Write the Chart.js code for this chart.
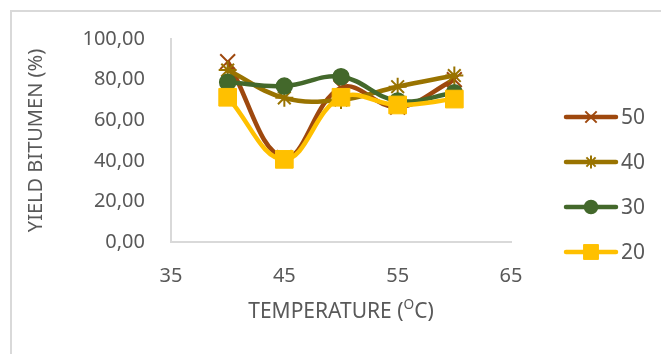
<!DOCTYPE html>
<html>
<head>
<meta charset="utf-8">
<script src="https://cdn.jsdelivr.net/npm/chart.js@4/dist/chart.umd.min.js"></script>
<style>
  html, body { margin: 0; padding: 0; background: #ffffff; }
  #wrap { width: 661px; height: 354px; position: relative; }
</style>
</head>
<body>
<div id="wrap"><canvas id="c" width="661" height="354"></canvas></div>
<script>
// Extraction temperature (°C) and bitumen yield (%) for each series
const temperatures = [40, 45, 50, 55, 60];
const seriesNames = ['50', '40', '30', '20'];
const yield50 = [88.8, 41.5, 76.0, 66.5, 80.0];
const yield40 = [84.7, 71.0, 70.0, 76.5, 82.0];
const yield30 = [78.7, 76.8, 81.4, 69.5, 73.5];
const yield20 = [71.3, 40.7, 71.3, 67.5, 70.4];
const xTicks = [35, 45, 55, 65];
const yTicks = [0, 20, 40, 60, 80, 100];

const FONT = '"Noto Sans", "Open Sans", "Liberation Sans", sans-serif';
const TEXT = '#595959';
const AXIS = '#d9d9d9';

const styles = [
  { color: '#9E480E', point: 'crossRot', radius: 10.5, pw: 2,   lr: 8,    order: 4 },
  { color: '#997300', point: 'star',     radius: 9,    pw: 2,   lr: 6.5,  order: 3 },
  { color: '#43682B', point: 'circle',   radius: 8,    pw: 1.5, lr: 6.5,  order: 2 },
  { color: '#FFC000', point: 'rect',     radius: 12.5, pw: 1,   lr: 10.5, order: 1 }
];
const values = [yield50, yield40, yield30, yield20];

const datasets = seriesNames.map((name, s) => ({
  label: name,
  data: temperatures.map((t, i) => ({ x: t, y: values[s][i] })),
  borderColor: styles[s].color,
  backgroundColor: styles[s].color,
  pointBackgroundColor: styles[s].color,
  pointBorderColor: styles[s].color,
  borderWidth: 4.5,
  tension: 0.4,
  pointStyle: styles[s].point,
  pointRadius: styles[s].radius,
  pointBorderWidth: styles[s].pw,
  order: styles[s].order
}));

// Light grey chart frame
const framePlugin = {
  id: 'frame',
  beforeDraw(chart) {
    const ctx = chart.ctx;
    ctx.save();
    ctx.strokeStyle = AXIS;
    ctx.lineWidth = 2;
    ctx.beginPath();
    ctx.moveTo(11, 354);
    ctx.lineTo(11, 11);
    ctx.lineTo(661, 11);
    ctx.stroke();
    ctx.restore();
  }
};

// X axis title with superscript, plus a line-and-marker legend on the right
const extrasPlugin = {
  id: 'extras',
  afterDraw(chart) {
    const ctx = chart.ctx;
    const area = chart.chartArea;
    ctx.save();
    // x axis title
    const size = 21;
    const parts = [
      { t: 'TEMPERATURE (', s: size, dy: 0 },
      { t: 'O', s: size * 0.65, dy: -7 },
      { t: 'C)', s: size, dy: 0 }
    ];
    let total = 0;
    parts.forEach(p => { ctx.font = p.s + 'px ' + FONT; p.w = ctx.measureText(p.t).width; total += p.w; });
    let x = (area.left + area.right) / 2 - total / 2;
    const y = 312;
    ctx.fillStyle = TEXT;
    ctx.textBaseline = 'middle';
    ctx.textAlign = 'left';
    parts.forEach(p => {
      ctx.font = p.s + 'px ' + FONT;
      ctx.fillText(p.t, x, y + p.dy);
      x += p.w;
    });

    // legend
    const rows = [117, 162, 207, 252];
    chart.data.datasets.forEach((ds, i) => {
      const st = styles[i];
      const ly = rows[i];
      ctx.strokeStyle = st.color;
      ctx.fillStyle = st.color;
      ctx.lineWidth = 4.5;
      ctx.lineCap = 'round';
      ctx.beginPath();
      ctx.moveTo(566, ly);
      ctx.lineTo(616, ly);
      ctx.stroke();
      ctx.lineCap = 'butt';
      ctx.lineWidth = st.pw;
      Chart.helpers.drawPoint(ctx, { pointStyle: st.point, radius: st.lr, rotation: 0, borderWidth: st.pw }, 591, ly);
      ctx.fillStyle = TEXT;
      ctx.font = '21px ' + FONT;
      ctx.textBaseline = 'middle';
      ctx.fillText(ds.label, 621, ly + 1);
    });
    ctx.restore();
  }
};

new Chart(document.getElementById('c'), {
  type: 'line',
  data: { datasets },
  options: {
    responsive: false,
    animation: false,
    devicePixelRatio: 1,
    layout: { padding: { left: 0, top: 39, right: 150, bottom: 0 } },
    plugins: { legend: { display: false }, tooltip: { enabled: false } },
    scales: {
      x: {
        type: 'linear',
        min: 35,
        max: 65,
        afterBuildTicks(scale) { scale.ticks = xTicks.map(v => ({ value: v })); },
        afterFit(scale) { scale.height = 112; },
        grid: { display: false, drawTicks: false },
        border: { display: true, color: AXIS, width: 2 },
        ticks: { color: TEXT, font: { family: FONT, size: 20 }, padding: 22, maxRotation: 0 }
      },
      y: {
        min: 0,
        max: 100,
        afterBuildTicks(scale) { scale.ticks = yTicks.map(v => ({ value: v })); },
        afterFit(scale) { scale.width = 171; },
        grid: { display: false, drawTicks: false },
        border: { display: true, color: AXIS, width: 2 },
        ticks: {
          color: TEXT,
          font: { family: FONT, size: 20 },
          padding: 26,
          callback: v => Number(v).toFixed(2).replace('.', ',')
        },
        title: {
          display: true,
          text: 'YIELD BITUMEN (%)',
          color: TEXT,
          font: { family: FONT, size: 20 },
          padding: { top: 24, bottom: 0 }
        }
      }
    }
  },
  plugins: [framePlugin, extrasPlugin]
});
</script>
</body>
</html>
